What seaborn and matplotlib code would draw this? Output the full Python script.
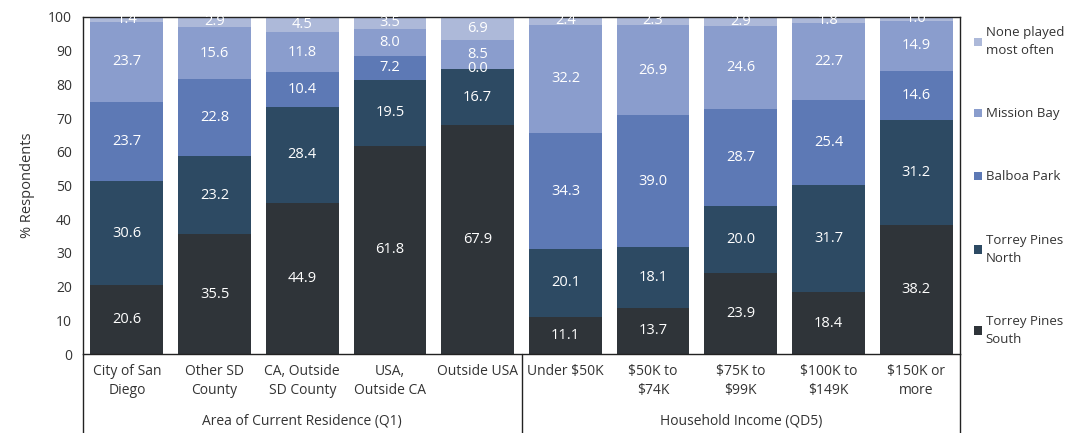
import matplotlib
matplotlib.use("Agg")
import matplotlib.pyplot as plt
import seaborn as sns
import numpy as np
import pandas as pd
from matplotlib.lines import Line2D

categories = ["City of San\nDiego", "Other SD\nCounty", "CA, Outside\nSD County", "USA,\nOutside CA",
              "Outside USA", "Under $50K", "$50K to\n$74K", "$75K to\n$99K", "$100K to\n$149K", "$150K or\nmore"]
groups = ["Area of Current Residence (Q1)", "Household Income (QD5)"]

torrey_south = [20.6, 35.5, 44.9, 61.8, 67.9, 11.1, 13.7, 23.9, 18.4, 38.2]
torrey_north = [30.6, 23.2, 28.4, 19.5, 16.7, 20.1, 18.1, 20.0, 31.7, 31.2]
balboa_park = [23.7, 22.8, 10.4, 7.2, 0.0, 34.3, 39.0, 28.7, 25.4, 14.6]
mission_bay = [23.7, 15.6, 11.8, 8.0, 8.5, 32.2, 26.9, 24.6, 22.7, 14.9]
none_played = [1.4, 2.9, 4.5, 3.5, 6.9, 2.4, 2.3, 2.9, 1.8, 1.0]

series_names = ["Torrey Pines\nSouth", "Torrey Pines\nNorth", "Balboa Park", "Mission Bay", "None played\nmost often"]
series_vals = [torrey_south, torrey_north, balboa_park, mission_bay, none_played]
colors = ["#2f3439", "#2d4a63", "#5d79b5", "#8a9dcd", "#adb9d9"]

sns.set_theme(style="white")
plt.rcParams["font.family"] = ["Open Sans", "DejaVu Sans"]
txt = "#333333"

fig = plt.figure(figsize=(10.81, 4.33), dpi=100)
ax = fig.add_axes([0.0768, 0.1824, 0.8113, 0.7784])

bottom = np.zeros(len(categories))
handles = []
for name, vals, col in zip(series_names, series_vals, colors):
    df = pd.DataFrame({"cat": categories, "val": vals})
    sns.barplot(data=df, x="cat", y="val", color=col, bottom=bottom, width=0.83,
                ax=ax, saturation=1, linewidth=0, label=name)
    cont = ax.containers[-1]
    labels = [f"{v:.1f}" for v in vals]
    ax.bar_label(cont, labels=labels, label_type="center", color="white", fontsize=10.5)
    handles.append(cont.patches[0])
    bottom = bottom + np.array(vals)

ax.set_ylim(0, 100)
ax.set_xlim(-0.5, len(categories) - 0.5)
ax.set_yticks(np.arange(0, 101, 10))
ax.tick_params(axis="y", labelsize=10, colors=txt, length=0, pad=8)
ax.tick_params(axis="x", labelsize=10, colors=txt, length=0, pad=7)
for t in ax.get_xticklabels():
    t.set_linespacing(1.35)
ax.set_xlabel("")
ax.set_ylabel("% Respondents", fontsize=10.5, color=txt, labelpad=9)
for s in ax.spines.values():
    s.set_color("#222222")
    s.set_linewidth(1.0)

# group dividers and labels
trans = ax.get_xaxis_transform()
for xd in [-0.5, 4.5, 9.5]:
    ax.add_line(Line2D([xd, xd], [0, -0.26], transform=trans, color="#222222", lw=1.0, clip_on=False))
ax.text(2.0, -0.2, groups[0], transform=trans, ha="center", va="center", fontsize=10, color=txt)
ax.text(7.0, -0.2, groups[1], transform=trans, ha="center", va="center", fontsize=10, color=txt)

leg = ax.legend(handles[::-1], series_names[::-1], loc="upper left", bbox_to_anchor=(1.005, 1.0),
                frameon=False, fontsize=9.5, labelspacing=3.8, handlelength=0.6, handleheight=0.6,
                handletextpad=0.3, borderaxespad=0.3)
for t in leg.get_texts():
    t.set_color(txt)
    t.set_linespacing(1.5)

fig.savefig("out.png", dpi=100, facecolor="white")
